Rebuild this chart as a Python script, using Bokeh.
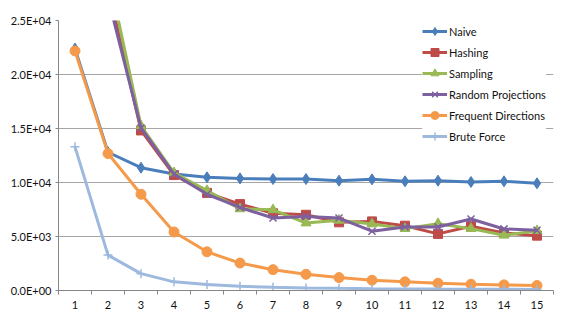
from bokeh.plotting import figure
from bokeh.models import FixedTicker, Legend, LegendItem, Range1d
from bokeh.embed import file_html
from bokeh.resources import INLINE

x_cats = list(range(1, 16))
x_labels = [str(i) for i in x_cats]

naive = [22400, 12800, 11370, 10780, 10480, 10380, 10320, 10320, 10170, 10290, 10110, 10170, 10050, 10110, 9925]
hashing = [45000, 28000, 14820, 10690, 9040, 8000, 7150, 7010, 6310, 6400, 6000, 5240, 5950, 5330, 5080]
sampling = [46000, 29500, 15250, 10900, 9250, 7560, 7470, 6250, 6500, 6160, 5730, 6190, 5730, 5120, 5540]
rand_proj = [44000, 27100, 15050, 10780, 8910, 7690, 6710, 6860, 6710, 5490, 5880, 5880, 6620, 5700, 5580]
freq_dir = [22180, 12680, 8910, 5420, 3580, 2540, 1930, 1500, 1195, 950, 800, 670, 580, 520, 460]
brute = [13300, 3280, 1560, 800, 550, 400, 300, 240, 200, 170, 150, 130, 120, 110, 100]

y_ticks = [0, 5000, 10000, 15000, 20000, 25000]
y_tick_labels = ["0.0E+00", "5.0E+03", "1.0E+04", "1.5E+04", "2.0E+04", "2.5E+04"]

series = [
    ("Naive", naive, "#4A7EBB", "diamond", 11),
    ("Hashing", hashing, "#BE4B48", "square", 9),
    ("Sampling", sampling, "#98B954", "triangle", 10),
    ("Random Projections", rand_proj, "#7D60A0", "x", 10),
    ("Frequent Directions", freq_dir, "#F59A4B", "circle", 10),
    ("Brute Force", brute, "#9DB9DE", "cross", 9),
]

FONT = "Lato"

p = figure(width=565, height=311, output_backend="svg", toolbar_location=None,
           x_range=Range1d(0.5, 15.5), y_range=Range1d(0, 25000),
           min_border_left=58, min_border_right=12, min_border_top=20, min_border_bottom=21)
p.outline_line_color = None
p.background_fill_color = "white"
p.border_fill_color = "white"

p.xgrid.grid_line_color = None
p.ygrid.grid_line_color = "#a6a6a6"
p.ygrid.grid_line_width = 1
p.ygrid.ticker = FixedTicker(ticks=y_ticks)

p.xaxis.ticker = FixedTicker(ticks=x_cats, minor_ticks=[c - 0.5 for c in x_cats] + [15.5])
p.xaxis.major_label_overrides = {c: l for c, l in zip(x_cats, x_labels)}
p.xaxis.major_tick_out = 0
p.xaxis.major_tick_in = 0
p.xaxis.minor_tick_out = 4
p.xaxis.minor_tick_in = 0
p.xaxis.minor_tick_line_color = "#868686"
p.xaxis.axis_line_color = "#868686"
p.xaxis.major_label_standoff = 6

p.yaxis.ticker = FixedTicker(ticks=y_ticks)
p.yaxis.major_label_overrides = {t: l for t, l in zip(y_ticks, y_tick_labels)}
p.yaxis.major_tick_out = 3
p.yaxis.major_tick_in = 0
p.yaxis.minor_tick_out = 0
p.yaxis.minor_tick_in = 0
p.yaxis.major_tick_line_color = "#868686"
p.yaxis.axis_line_color = "#868686"
p.yaxis.major_label_standoff = 4

for ax in (p.xaxis, p.yaxis):
    ax.major_label_text_font = FONT
    ax.major_label_text_font_size = "11px"
    ax.major_label_text_color = "#111111"

items = []
for name, vals, color, marker, size in series:
    r1 = p.line(x_cats, vals, line_color=color, line_width=3)
    if marker in ("x", "cross"):
        r2 = p.scatter(x_cats, vals, marker=marker, size=size, line_color=color, line_width=1.5, fill_color=color)
    else:
        r2 = p.scatter(x_cats, vals, marker=marker, size=size, line_color=color, fill_color=color)
    items.append(LegendItem(label=name, renderers=[r1, r2]))

legend = Legend(items=items, location=(364, 144), glyph_width=25, glyph_height=20,
                label_height=20, spacing=1, padding=1, margin=0, label_standoff=2,
                label_text_font=FONT, label_text_font_size="11px", label_text_color="#111111",
                border_line_color=None, background_fill_color="white", background_fill_alpha=1.0)
p.add_layout(legend, "center")

open("out.html", "w").write(file_html(p, INLINE))
